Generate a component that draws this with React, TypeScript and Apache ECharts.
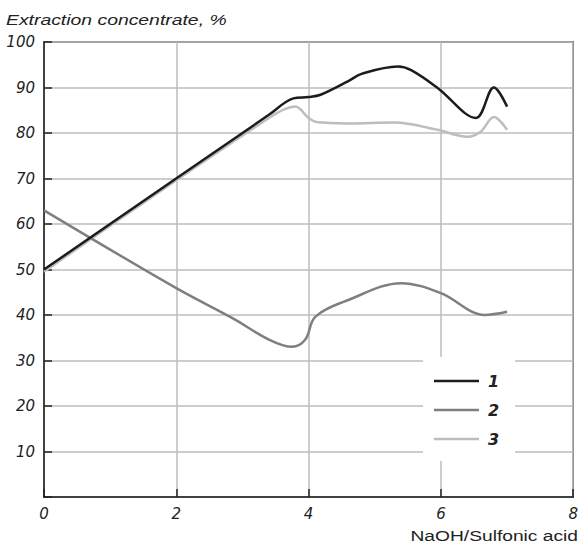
import React, { useEffect, useRef } from "react";
import * as echarts from "echarts";

const seriesNames = ["1", "2", "3"];
const seriesColors = ["#1c1c1c", "#7f7f7f", "#bdbdbd"];

const curve1: [number, number][] = [
  [0, 50], [3.4, 84], [3.77, 87.6], [4.0, 87.9], [4.18, 88.4], [4.6, 91.4], [4.8, 93.0],
  [5.35, 94.6], [5.55, 93.8], [5.95, 89.9], [6.53, 83.3], [6.8, 90.0], [7.0, 85.8],
];
const curve2: [number, number][] = [
  [0, 63], [2, 45.9], [2.85, 39.3], [3.4, 34.6], [3.75, 33.0], [3.95, 34.6], [4.1, 39.6],
  [4.6, 43.3], [5.4, 47.0], [6.0, 44.8], [6.66, 40.0], [7.0, 40.7],
];
const curve3: [number, number][] = [
  [0, 49.5], [3.4, 83.3], [3.8, 85.8], [4.0, 83.3], [4.12, 82.4], [4.6, 82.1], [5.3, 82.3],
  [5.95, 80.7], [6.4, 79.2], [6.6, 80.3], [6.8, 83.5], [7.0, 80.7],
];
const curves = [curve1, curve2, curve3];

const titleText = "Extraction concentrate, %";
const xAxisTitle = "NaOH/Sulfonic acid";

export default function App() {
  const ref = useRef<HTMLDivElement>(null);
  useEffect(() => {
    if (!ref.current) return;
    const chart = echarts.init(ref.current, null, { renderer: "svg" });
    const font = "Liberation Sans, Arial, Helvetica, sans-serif";
    const labFont = "DejaVu Sans, Verdana, sans-serif";
    chart.setOption({
      animation: false,
      backgroundColor: "#fff",
      grid: {
        left: 44, right: 5, top: 42, bottom: 50,
        show: true, borderColor: "#222", borderWidth: 1.5,
      },
      legend: {
        data: seriesNames,
        orient: "vertical",
        left: 423,
        top: 357,
        icon: "rect",
        itemWidth: 45,
        itemHeight: 2.5,
        itemGap: 13,
        padding: [16, 16, 14, 11],
        backgroundColor: "#fff",
        textStyle: {
          fontFamily: labFont, fontSize: 16, fontStyle: "italic", fontWeight: "bold", color: "#222",
          padding: [0, 0, 0, 4],
        },
      },
      xAxis: {
        type: "value",
        min: 0, max: 8, interval: 2,
        axisLine: { show: true, lineStyle: { color: "#222", width: 1.5 } },
        axisTick: { show: true, inside: true, length: 8, lineStyle: { color: "#222", width: 1.5 } },
        splitLine: { show: true, lineStyle: { color: "#bcbcbc", width: 1.5 } },
        axisLabel: { fontFamily: labFont, fontSize: 15, fontStyle: "italic", color: "#222", margin: 9 },
      },
      yAxis: {
        type: "value",
        min: 0, max: 100, interval: 10,
        axisLine: { show: true, lineStyle: { color: "#222", width: 1.5 } },
        axisTick: { show: true, inside: true, length: 8, lineStyle: { color: "#222", width: 1.5 } },
        splitLine: { show: true, lineStyle: { color: "#bcbcbc", width: 1.5 } },
        axisLabel: {
          fontFamily: labFont, fontSize: 15, fontStyle: "italic", color: "#222", margin: 9,
          formatter: (v: number) => (v === 0 ? "" : String(v)),
        },
      },
      graphic: [
        {
          type: "text",
          x: 6,
          y: 19.5,
          scaleX: 1.25,
          style: {
            text: titleText, font: `italic 15.5px ${font}`, fill: "#222",
            align: "left", verticalAlign: "middle",
          },
        },
        {
          type: "text",
          x: 578,
          y: 535.5,
          scaleX: 1.24,
          style: {
            text: xAxisTitle, font: `15.5px ${font}`, fill: "#222",
            align: "right", verticalAlign: "middle",
          },
        },
      ],
      series: curves.map((c, i) => ({
        name: seriesNames[i],
        type: "line",
        data: c,
        smooth: 0.35,
        showSymbol: false,
        symbol: "none",
        lineStyle: { color: seriesColors[i], width: 2.5 },
        itemStyle: { color: seriesColors[i] },
        z: 3 - i,
      })),
    });
    return () => chart.dispose();
  }, []);
  return <div ref={ref} style={{ width: 581, height: 547, position: "absolute", left: 0, top: 0 }} />;
}
